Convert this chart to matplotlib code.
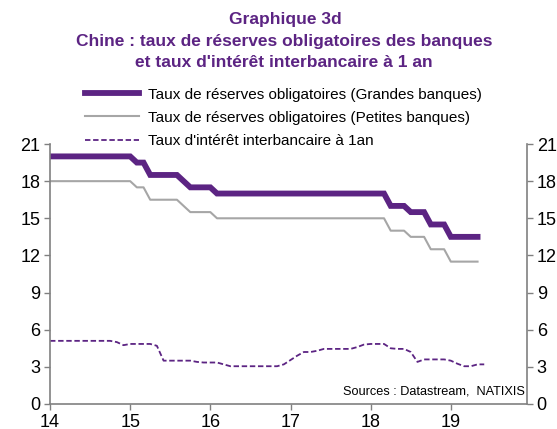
import matplotlib
matplotlib.use("Agg")
import matplotlib.pyplot as plt
import numpy as np

plt.rcParams['font.family'] = ['Liberation Sans', 'DejaVu Sans']

# Monthly data, Jan 2014 -> mid 2019 (x in years, 14 = 2014)
months_rrr = [14 + i / 12 for i in range(65)]
months_ibk = [14 + i / 12 for i in range(66)]

rrr_grandes = ([20.0] * 13 + [19.5, 19.5] + [18.5] * 5 + [18.0]
               + [17.5] * 4 + [17.0] * 26 + [16.0] * 3 + [15.5] * 3
               + [14.5] * 3 + [13.5] * 5)
rrr_petites = ([18.0] * 13 + [17.5, 17.5] + [16.5] * 5 + [16.0]
               + [15.5] * 4 + [15.0] * 26 + [14.0] * 3 + [13.5] * 3
               + [12.5] * 3 + [11.5] * 5)
interbank = [5.1, 5.1, 5.1, 5.1, 5.1, 5.1, 5.1, 5.1, 5.1, 5.1, 5.0, 4.75,
             4.85, 4.85, 4.85, 4.85, 4.7, 3.5, 3.5, 3.5, 3.5, 3.5, 3.4, 3.35,
             3.35, 3.35, 3.2, 3.05, 3.05, 3.05, 3.05, 3.05, 3.05, 3.05, 3.05, 3.2,
             3.55, 3.9, 4.2, 4.2, 4.3, 4.45, 4.45, 4.45, 4.45, 4.45, 4.6, 4.8,
             4.85, 4.85, 4.85, 4.5, 4.45, 4.45, 4.2, 3.4, 3.6, 3.6, 3.6, 3.6,
             3.5, 3.25, 3.05, 3.05, 3.2, 3.2]

labels = ["Taux de réserves obligatoires (Grandes banques)",
          "Taux de réserves obligatoires (Petites banques)",
          "Taux d'intérêt interbancaire à 1an"]
year_ticks = [14, 15, 16, 17, 18, 19]
y_ticks = [0, 3, 6, 9, 12, 15, 18, 21]

purple = "#5c2483"
grey = "#a6a6a6"
spine_col = "#808080"

fig = plt.figure(figsize=(5.57, 4.29), dpi=100)
ax = fig.add_axes([0.0898, 0.0583, 0.8563, 0.606])

l1, = ax.plot(months_rrr, rrr_grandes, color=purple, lw=4.2,
              solid_joinstyle="miter", label=labels[0])
l2, = ax.plot(months_rrr, rrr_petites, color=grey, lw=1.5, label=labels[1])
l3, = ax.plot(months_ibk, interbank, color=purple, lw=1.3,
              dashes=(3, 1.5), label=labels[2])

ax.set_xlim(14, 19.95)
ax.set_ylim(0, 21)
ax.set_xticks(year_ticks)
ax.set_yticks(y_ticks)
ax.tick_params(axis="both", labelsize=13, color=spine_col, length=4,
               width=1, labelcolor="black")
ax.tick_params(axis="y", which="both", right=True, labelright=True, pad=3)
ax.tick_params(axis="x", pad=3)
for s in ["left", "right", "bottom"]:
    ax.spines[s].set_color(spine_col)
    ax.spines[s].set_linewidth(1.2)
ax.spines["top"].set_visible(False)

fig.text(0.512, 0.954, "Graphique 3d", ha="center", va="center",
         color=purple, fontsize=12.5, fontweight="bold")
fig.text(0.51, 0.903, "Chine : taux de réserves obligatoires des banques",
         ha="center", va="center", color=purple, fontsize=12.5, fontweight="bold")
fig.text(0.51, 0.854, "et taux d'intérêt interbancaire à 1 an",
         ha="center", va="center", color=purple, fontsize=12.5, fontweight="bold")

fig.legend(handles=[l1, l2, l3], loc="upper left",
           bbox_to_anchor=(0.142, 0.81), frameon=False, fontsize=11,
           handlelength=3.5, handletextpad=0.6, labelspacing=0.6,
           borderaxespad=0)

ax.text(0.995, 0.025, "Sources : Datastream,  NATIXIS", transform=ax.transAxes,
        ha="right", va="bottom", fontsize=9.2)

fig.savefig("out.png", dpi=100)
